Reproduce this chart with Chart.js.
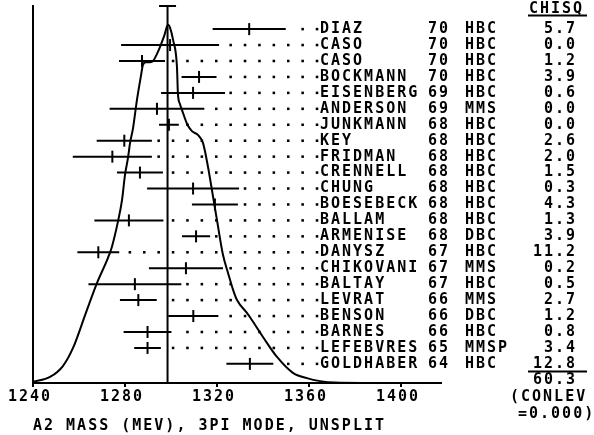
<!DOCTYPE html>
<html>
<head>
<meta charset="utf-8">
<script src="https://cdn.jsdelivr.net/npm/chart.js@4.4.1/dist/chart.umd.min.js"></script>
<style>
  html, body { margin: 0; padding: 0; background: #fff; }
</style>
</head>
<body>
<canvas id="ideogram" width="594" height="435"></canvas>
<script>
// measurements, top row first
const names = ["DIAZ", "CASO", "CASO", "BOCKMANN", "EISENBERG", "ANDERSON", "JUNKMANN", "KEY",
  "FRIDMAN", "CRENNELL", "CHUNG", "BOESEBECK", "BALLAM", "ARMENISE", "DANYSZ", "CHIKOVANI",
  "BALTAY", "LEVRAT", "BENSON", "BARNES", "LEFEBVRES", "GOLDHABER"];
const years = ["70", "70", "70", "70", "69", "69", "68", "68", "68", "68", "68", "68", "68", "68",
  "67", "67", "67", "66", "66", "66", "65", "64"];
const types = ["HBC", "HBC", "HBC", "HBC", "HBC", "MMS", "HBC", "HBC", "HBC", "HBC", "HBC", "HBC",
  "HBC", "DBC", "HBC", "MMS", "HBC", "MMS", "DBC", "HBC", "MMSP", "HBC"];
const chisq = [5.7, 0.0, 1.2, 3.9, 0.6, 0.0, 0.0, 2.6, 2.0, 1.5, 0.3, 4.3, 1.3, 3.9, 11.2, 0.2,
  0.5, 2.7, 1.2, 0.8, 3.4, 12.8];
const mass = [1334.0, 1299.6, 1287.4, 1312.2, 1309.6, 1293.9, 1299.1, 1279.7, 1274.5, 1286.5,
  1309.6, 1319.1, 1281.7, 1310.9, 1268.4, 1306.5, 1284.3, 1285.8, 1309.7, 1289.8, 1289.8, 1334.3];
const err = [15.9, 21.3, 10.0, 7.6, 13.9, 20.6, 4.3, 12.0, 17.2, 10.0, 20.0, 10.0, 15.0, 6.1,
  9.1, 16.1, 20.2, 8.0, 10.9, 10.4, 5.8, 10.2];

// weighted mean and its error
const meanMass = 1298.5;
const meanErr = 3.7;
const chisqTotal = "60.3";
const conlev = "=0.000)";

// ideogram curve (density in % of plot height)
const curveMass = [1240.0, 1247.4, 1253.0, 1257.4, 1263.0, 1267.8, 1272.6, 1274.3, 1277.0, 1278.7,
  1280.0, 1281.3, 1282.2, 1283.5, 1285.2, 1287.0, 1287.8, 1289.1, 1290.9, 1292.2, 1293.9, 1295.2,
  1297.0, 1298.7, 1299.6, 1300.9, 1302.6, 1303.0, 1303.9, 1304.8, 1307.0, 1309.1, 1311.7, 1313.9,
  1316.1, 1317.8, 1320.0, 1322.6, 1324.8, 1327.0, 1328.7, 1333.0, 1334.3, 1340.0, 1346.1, 1353.0,
  1359.1, 1364.8, 1371.3, 1386.5];
const curveDensity = [0.3, 1.6, 4.5, 9.3, 18.6, 26.5, 33.2, 36.1, 43.0, 48.5,
  55.2, 59.7, 63.7, 67.6, 75.1, 81.7, 84.4, 85.1, 85.1, 85.4, 87.3, 89.1,
  92.0, 95.0, 94.2, 91.0, 83.8, 76.9, 74.0, 72.4, 68.7, 66.8, 65.8, 63.7,
  57.3, 51.2, 43.2, 34.0, 29.2, 24.7, 22.0, 18.6, 17.5, 12.2, 6.9, 2.7,
  1.3, 0.5, 0.1, 0];

const tickValues = [1240, 1280, 1320, 1360, 1400];
const xTitle = "A2 MASS (MEV), 3PI MODE, UNSPLIT";

const FONT = { family: "'DejaVu Sans Mono', monospace", size: 15, weight: "bold" };
const FONT_CSS = "bold 15px 'DejaVu Sans Mono', monospace";
const SPACING = "2px";

// leader dots sit on a fixed grid ending just before the names
const dotEnd = 1363.5;
const dotStep = 6.26;

const barData = [];
const centerData = [];
const dotData = [];
mass.forEach((m, i) => {
  barData.push({ x: m - err[i], y: i }, { x: m + err[i], y: i }, { x: m, y: null });
  centerData.push({ x: m, y: i });
  for (let d = dotEnd; d >= m + err[i] + 1.7; d -= dotStep) {
    dotData.push({ x: d, y: i });
  }
});
const curveData = curveMass.map((m, i) => ({ x: m, y: curveDensity[i] }));

const textPlugin = {
  id: "tableText",
  beforeDraw(chart) {
    chart.ctx.letterSpacing = SPACING;
  },
  afterDraw(chart) {
    const ctx = chart.ctx;
    const y = chart.scales.y;
    ctx.save();
    ctx.font = FONT_CSS;
    ctx.letterSpacing = SPACING;
    ctx.fillStyle = "#000";
    ctx.strokeStyle = "#000";
    ctx.textBaseline = "middle";
    names.forEach((n, i) => {
      const py = y.getPixelForValue(i);
      ctx.textAlign = "left";
      ctx.fillText(n, 320, py);
      ctx.fillText(years[i], 428, py);
      ctx.fillText(types[i], 465, py);
      ctx.textAlign = "right";
      ctx.fillText(chisq[i].toFixed(1), 577, py);
    });

    // header + totals
    ctx.textAlign = "left";
    ctx.fillText("CHISQ", 529, 9);
    ctx.lineWidth = 2;
    ctx.beginPath();
    ctx.moveTo(528, 15.5);
    ctx.lineTo(587, 15.5);
    ctx.moveTo(528, 371.5);
    ctx.lineTo(587, 371.5);
    ctx.stroke();
    ctx.textAlign = "right";
    ctx.fillText(chisqTotal, 577, 380);
    ctx.textAlign = "left";
    ctx.fillText("(CONLEV", 510, 397);
    ctx.fillText(conlev, 518, 414);
    ctx.restore();
  }
};

new Chart(document.getElementById("ideogram"), {
  type: "scatter",
  data: {
    datasets: [
      {
        label: "ideogram",
        data: curveData,
        yAxisID: "yc",
        showLine: true,
        borderColor: "#000",
        borderWidth: 2,
        pointRadius: 0,
        cubicInterpolationMode: "monotone"
      },
      {
        label: "mean",
        data: [{ x: meanMass, y: 0 }, { x: meanMass, y: 100 }],
        yAxisID: "yc",
        showLine: true,
        borderColor: "#000",
        borderWidth: 2,
        pointRadius: 0,
        clip: false
      },
      {
        label: "mean error",
        data: [{ x: meanMass - meanErr, y: 100 }, { x: meanMass + meanErr, y: 100 }],
        yAxisID: "yc",
        showLine: true,
        borderColor: "#000",
        borderWidth: 2,
        pointRadius: 0,
        clip: false
      },
      {
        label: "errors",
        data: barData,
        yAxisID: "y",
        showLine: true,
        spanGaps: false,
        borderColor: "#000",
        borderWidth: 2,
        pointRadius: 0
      },
      {
        label: "values",
        data: centerData,
        yAxisID: "y",
        pointStyle: "line",
        rotation: 90,
        pointRadius: 6,
        borderColor: "#000",
        borderWidth: 2
      },
      {
        label: "leaders",
        data: dotData,
        yAxisID: "y",
        pointStyle: "rect",
        pointRadius: 1.8,
        borderWidth: 0,
        backgroundColor: "#000"
      }
    ]
  },
  options: {
    responsive: false,
    animation: false,
    events: [],
    layout: { padding: { left: 33, right: 153, top: 6, bottom: 0 }, autoPadding: false },
    plugins: { legend: { display: false }, tooltip: { enabled: false } },
    scales: {
      x: {
        type: "linear",
        position: "bottom",
        min: 1240,
        max: 1417.4,
        afterBuildTicks: (s) => { s.ticks = tickValues.map((v) => ({ value: v })); },
        afterFit: (s) => { s.height = 52; s.paddingLeft = 0; s.paddingRight = 0; },
        grid: { display: true, drawOnChartArea: false, drawTicks: true, tickLength: 4, color: "#000", lineWidth: 2 },
        border: { display: true, color: "#000", width: 2 },
        ticks: {
          color: "#000",
          font: FONT,
          padding: 1,
          maxRotation: 0,
          autoSkip: false,
          labelOffset: -3,
          callback: (v) => String(v)
        },
        title: {
          display: true,
          text: xTitle,
          align: "start",
          color: "#000",
          font: FONT,
          padding: { top: 0, bottom: 0 }
        }
      },
      y: {
        type: "linear",
        position: "left",
        reverse: true,
        min: -1.45,
        max: 22.2,
        afterFit: (s) => { s.width = 0; },
        ticks: { display: false },
        grid: { display: false },
        border: { display: true, color: "#000", width: 2 }
      },
      yc: {
        type: "linear",
        display: false,
        min: 0,
        max: 100
      }
    }
  },
  plugins: [textPlugin]
});
</script>
</body>
</html>
